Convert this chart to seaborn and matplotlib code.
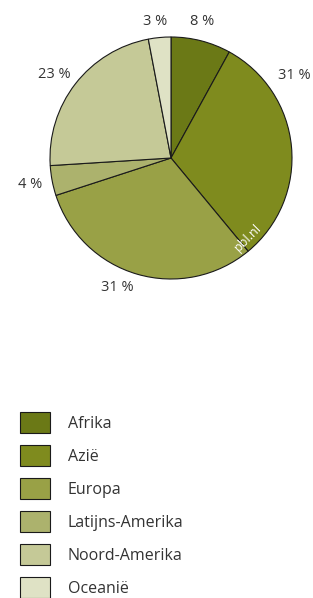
import seaborn as sns
import matplotlib.pyplot as plt

regions = ["Afrika", "Azië", "Europa", "Latijns-Amerika", "Noord-Amerika", "Oceanië"]
shares = [8, 31, 31, 4, 23, 3]
share_labels = ["8 %", "31 %", "31 %", "4 %", "23 %", "3 %"]
# label anchors in pie units (radius = 1)
label_x = [0.256, 1.017, -0.446, -1.165, -0.967, -0.132]
label_y = [1.124, 0.678, -1.074, -0.215, 0.686, 1.132]

palette_hex = ["#6b7916", "#7f8b1e", "#99a146", "#acb26d", "#c5c997", "#dfe2c5"]

sns.set_style("white")
plt.rcParams['font.family'] = ['Open Sans', 'DejaVu Sans']
colors = sns.color_palette(palette_hex)

fig = plt.figure(figsize=(3.13, 5.98), dpi=100)
ax = fig.add_axes([50 / 313, 1 - 279 / 598, 242 / 313, 242 / 598])

wedges, _ = ax.pie(shares, colors=colors, startangle=90, counterclock=False,
                   wedgeprops=dict(edgecolor="#1a1a1a", linewidth=0.8))
ax.set_xlim(-1, 1)
ax.set_ylim(-1, 1)
ax.set_aspect("equal")
ax.axis("off")

for txt, x, y in zip(share_labels, label_x, label_y):
    ax.text(x, y, txt, ha="center", va="center", fontsize=10.5, color="#333333")

ax.text(0.64, -0.66, "pbl.nl", color="white", fontsize=9, rotation=45,
        ha="center", va="center")

fig.legend(wedges, regions, loc="upper left", bbox_to_anchor=(20 / 313, 1 - 412 / 598),
           frameon=False, fontsize=11.5, handlelength=1.88, handleheight=1.66,
           labelspacing=0.74, handletextpad=1.1, borderpad=0, borderaxespad=0,
           labelcolor="#333333")

fig.savefig("out.png", dpi=100)
